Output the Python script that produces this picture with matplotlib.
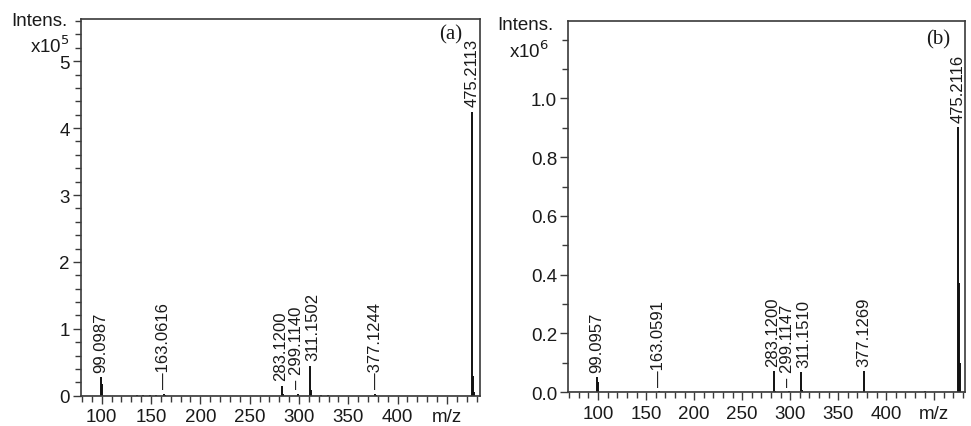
import matplotlib
matplotlib.use("Agg")
import matplotlib.pyplot as plt
from matplotlib.ticker import MultipleLocator, FixedLocator

plt.rcParams['font.family'] = ['Liberation Sans', 'DejaVu Sans']

# ---- Spectrum (a): intensity in units of 1e5 ----
mz_a = [99.0987, 100.10, 136.0, 142.0, 149.0, 155.0, 163.0616, 164.06,
        283.1200, 284.12, 299.1140, 311.1502, 312.15, 322.0, 329.0,
        377.1244, 378.12, 475.2113, 476.21, 477.22]
int_a = [0.275, 0.17, 0.01, 0.01, 0.01, 0.01, 0.025, 0.01,
         0.15, 0.03, 0.03, 0.45, 0.08, 0.01, 0.01,
         0.03, 0.01, 4.245, 0.30, 0.05]
lab_a = ["99.0987", "163.0616", "283.1200", "299.1140", "311.1502", "377.1244", "475.2113"]
lab_a_text = ["99.0987", "\u2014163.0616", "283.1200", "\u2013 299.1140",
              "311.1502", "\u2014377.1244", "475.2113"]
y_major_a = [0, 1, 2, 3, 4, 5]

# ---- Spectrum (b): intensity in units of 1e6 ----
mz_b = [99.0957, 100.10, 163.0591, 283.1200, 284.12, 299.1147, 311.1510,
        312.15, 377.1269, 440.0, 475.2116, 476.21, 477.22]
int_b = [0.051, 0.034, 0.003, 0.071, 0.005, 0.004, 0.068,
         0.008, 0.071, 0.003, 0.901, 0.372, 0.10]
lab_b = ["99.0957", "163.0591", "283.1200", "299.1147", "311.1510", "377.1269", "475.2116"]
lab_b_text = ["99.0957", "\u2014163.0591", "283.1200", "\u2013 299.1147",
              "311.1510", "377.1269", "475.2116"]
y_major_b = [0.0, 0.2, 0.4, 0.6, 0.8, 1.0]

x_major = [100, 150, 200, 250, 300, 350, 400, 450]
x_labels = ["100", "150", "200", "250", "300", "350", "400", "m/z"]

# small horizontal nudges (points) to keep crowded labels apart
nudge = {"283": -1.0, "299": -1.5, "311": 2.0}

fig = plt.figure(figsize=(9.71, 4.27), dpi=100)
ax_a = fig.add_axes([0.0834, 0.071, 0.4109, 0.882])
ax_b = fig.add_axes([0.5853, 0.079, 0.4085, 0.870])

spine_c = "#3a3a3a"
text_c = "#1a1a1a"


def draw(ax, mz, inten, labs, labs_text, xlim, ylim, ymaj, ymin, yfmt,
         exp_text, tag, head_pos, tag_pos):
    ax.vlines(mz, 0, inten, colors="#111111", linewidth=1.4)
    ax.axhline(0, color="#111111", linewidth=1.0)
    for val, txt in zip(labs, labs_text):
        v = float(val)
        i = mz.index(v)
        dx = nudge.get(val[:3], 0)
        ax.annotate(txt, xy=(v, inten[i]), xytext=(dx, 4),
                    textcoords="offset points", rotation=90,
                    ha="center", va="bottom", fontsize=12, color=text_c)
    ax.set_xlim(*xlim)
    ax.set_ylim(*ylim)
    ax.xaxis.set_major_locator(FixedLocator(x_major))
    ax.set_xticklabels(x_labels)
    ax.xaxis.set_minor_locator(MultipleLocator(10))
    ax.yaxis.set_major_locator(FixedLocator(ymaj))
    ax.yaxis.set_minor_locator(MultipleLocator(ymin))
    ax.set_yticklabels([format(t, yfmt) for t in ymaj])
    ax.tick_params(which="both", direction="out", color=spine_c,
                   labelsize=13.5, labelcolor=text_c, width=1.0)
    ax.tick_params(which="major", length=6, pad=2)
    ax.tick_params(which="minor", length=4)
    ax.tick_params(axis="x", which="major", pad=3)
    for s in ax.spines.values():
        s.set_color(spine_c)
        s.set_linewidth(1.2)
    (ix, iy), (ex, ey) = head_pos
    ax.text(ix, iy, "Intens.", transform=ax.transAxes, ha="right",
            va="center", fontsize=13.5, color=text_c)
    ax.text(ex, ey, exp_text, transform=ax.transAxes, ha="right",
            va="center", fontsize=13.5, color=text_c)
    ax.text(tag_pos[0], tag_pos[1], tag, transform=ax.transAxes, ha="right",
            va="top", fontsize=15, family="Liberation Serif", color=text_c)


draw(ax_a, mz_a, int_a, lab_a, lab_a_text, (79, 483.5), (0, 5.63), y_major_a,
     0.2, ".0f", r"x10$^{5}$", "(a)",
     ((-0.033, 0.995), (-0.028, 0.93)), (0.955, 0.985))
draw(ax_b, mz_b, int_b, lab_b, lab_b_text, (69, 482), (0, 1.264), y_major_b,
     0.1, ".1f", r"x10$^{6}$", "(b)",
     ((-0.038, 0.99), (-0.05, 0.922)), (0.962, 0.978))

fig.savefig("out.png", dpi=100)
